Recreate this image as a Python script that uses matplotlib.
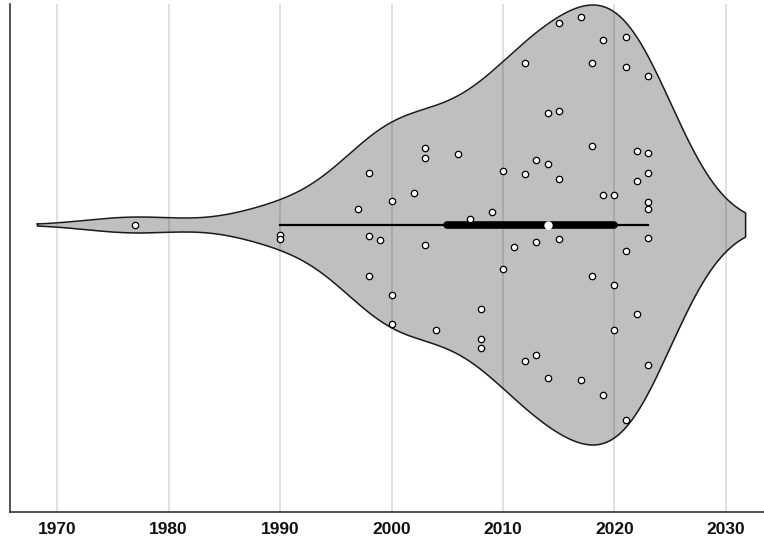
import numpy as np
import matplotlib
matplotlib.use("Agg")
import matplotlib.pyplot as plt

# Data: years and vertical jitter
years = [1977, 1990, 1990, 1997, 1998, 1998, 1998, 1999, 2000, 2000, 2000,
         2002, 2003, 2003, 2003, 2004, 2006, 2007, 2008, 2008, 2008, 2009,
         2010, 2010, 2011, 2012, 2012, 2012, 2013, 2013, 2013, 2014, 2014,
         2014, 2015, 2015, 2015, 2015, 2017, 2017, 2018, 2018, 2018, 2019,
         2019, 2019, 2020, 2020, 2020, 2021, 2021, 2021, 2021, 2022, 2022,
         2022, 2023, 2023, 2023, 2023, 2023, 2023, 2023]
jitter = [0.0, -0.045, -0.064, 0.073, 0.236, -0.05, -0.232, -0.068, 0.109,
          -0.318, -0.45, 0.145, 0.35, 0.305, -0.091, -0.477, 0.323, 0.027,
          -0.382, -0.518, -0.559, 0.059, 0.245, -0.2, -0.1, 0.736, 0.232,
          -0.618, 0.295, -0.077, -0.591, 0.509, 0.277, -0.695, 0.918, 0.518,
          0.209, -0.064, 0.945, -0.705, 0.736, 0.359, -0.232, 0.841, 0.136,
          -0.773, 0.136, -0.273, -0.477, 0.855, 0.718, -0.118, -0.886, 0.336,
          0.2, -0.405, 0.677, 0.327, 0.236, 0.105, 0.073, -0.059, -0.636]
tick_years = [1970, 1980, 1990, 2000, 2010, 2020, 2030]
bandwidth = 4.38  # KDE bandwidth (years)

x = np.array(years, dtype=float)
q1, med, q3 = np.percentile(x, [25, 50, 75])
iqr = q3 - q1
bw = bandwidth
grid = np.linspace(x.min() - 2 * bw, x.max() + 2 * bw, 400)
dens = np.exp(-0.5 * ((grid[:, None] - x[None, :]) / bw) ** 2).sum(axis=1)
dens = dens / dens.max()

lo_f = q1 - 1.5 * iqr
hi_f = q3 + 1.5 * iqr
w_lo = x[x >= lo_f].min()
w_hi = x[x <= hi_f].max()

fig = plt.figure(figsize=(7.64, 5.39), dpi=100)
ax = fig.add_axes([10 / 764, 1 - 512 / 539, 1 - 10 / 764, (512 - 4) / 539])

for t in tick_years:
    ax.axvline(t, color="#dcdcdc", lw=1.2, zorder=0)

ax.fill_between(grid, -dens, dens, color="black", alpha=0.25, lw=0, zorder=1)
outline_x = np.concatenate([grid, grid[::-1], grid[:1]])
outline_y = np.concatenate([dens, -dens[::-1], dens[:1]])
ax.plot(outline_x, outline_y, color="#1a1a1a", lw=1.1, zorder=2)

ax.plot([w_lo, w_hi], [0, 0], color="black", lw=1.6, zorder=3)
ax.plot([q1, q3], [0, 0], color="black", lw=5.5, solid_capstyle="round", zorder=4)
ax.plot([med], [0], "o", color="white", ms=5, mec="white", zorder=5)

ax.plot(x, jitter, "o", ms=4.6, mfc="white", mec="black", mew=0.9, zorder=6, clip_on=False)

ax.set_xlim(1965.78, 2033.41)
ax.set_ylim(-1.3045, 1.0045)
ax.set_xticks(tick_years)
ax.set_xticklabels([str(t) for t in tick_years], fontweight="bold",
                   fontsize=12.5, family="Liberation Sans", color="#111111")
ax.tick_params(axis="x", length=0, pad=7)
ax.set_yticks([])
for s in ["top", "right"]:
    ax.spines[s].set_visible(False)
for s in ["left", "bottom"]:
    ax.spines[s].set_color("#333333")
    ax.spines[s].set_linewidth(1.2)

fig.savefig("out.png", dpi=100)
